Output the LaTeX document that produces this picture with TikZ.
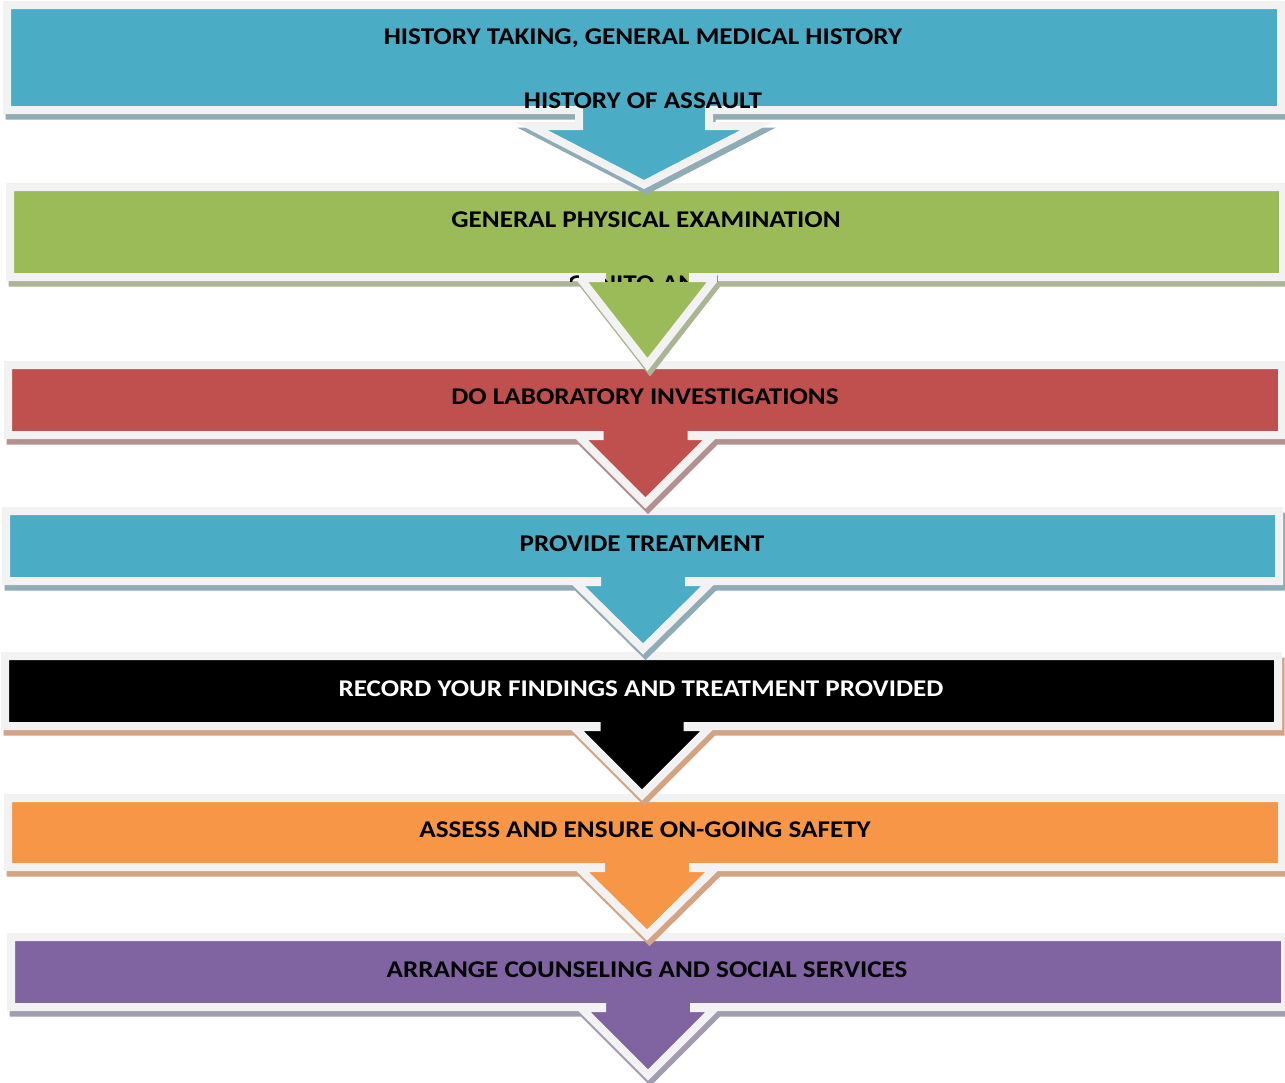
\documentclass[tikz,border=0pt]{standalone}
\usepackage{fontspec}
\setmainfont{Carlito}
\definecolor{cblue}{HTML}{4BACC6}
\definecolor{cgreen}{HTML}{9BBB59}
\definecolor{cred}{HTML}{C0504D}
\definecolor{corange}{HTML}{F79646}
\definecolor{cpurple}{HTML}{8064A2}
\definecolor{sblue}{HTML}{8FABB6}
\definecolor{sgreen}{HTML}{A9B595}
\definecolor{sred}{HTML}{B39191}
\definecolor{stan}{HTML}{D2A483}
\definecolor{spurple}{HTML}{A39BAF}
\definecolor{outl}{HTML}{F2F2F2}
% #1 L, #2 T, #3 R, #4 B, #5 cx, #6 stem half width, #7 head half width, #8 head top, #9 apex y
\newcommand\bandshape[9]{%
  \filldraw[fill=\bshad,draw=\bshad,line width=8pt,line join=miter,shift={(2.5,5.5)}] (#1,#2) -- (#3,#2) -- (#3,#4) -- ({#5+#6},#4) -- ({#5+#6},#8) -- ({#5+#7},#8) -- (#5,#9) -- ({#5-#7},#8) -- ({#5-#6},#8) -- ({#5-#6},#4) -- (#1,#4) -- cycle;
  \filldraw[fill=\bfill,draw=outl,line width=8pt,line join=miter] (#1,#2) -- (#3,#2) -- (#3,#4) -- ({#5+#6},#4) -- ({#5+#6},#8) -- ({#5+#7},#8) -- (#5,#9) -- ({#5-#7},#8) -- ({#5-#6},#8) -- ({#5-#6},#4) -- (#1,#4) -- cycle;
}
\newcommand\wtxt[1]{\scalebox{1.13}[1]{#1}}
\tikzset{lbl/.style={font=\fontsize{24}{24}\selectfont\bfseries, text=black, inner sep=0pt, anchor=base}}
\begin{document}
\begin{tikzpicture}[x=1pt,y=-1pt]
\useasboundingbox (0,0) rectangle (1285,1082);
\fill[white] (0,0) rectangle (1285,1082);
% band 7
\def\bfill{cpurple}\def\bshad{spurple}
\bandshape{11}{937}{1285}{1007}{648}{46}{67}{1008}{1075}
\node[lbl] (t7) at (647,977.5) {\wtxt{ARRANGE COUNSELING AND SOCIAL SERVICES}};
% band 6
\def\bfill{corange}\def\bshad{stan}
\bandshape{8}{798}{1282}{867}{647}{46}{68}{868}{935}
\node[lbl] (t6) at (645,837.5) {\wtxt{ASSESS AND ENSURE ON-GOING SAFETY}};
% band 5
\def\bfill{black}\def\bshad{stan}
\bandshape{5}{656}{1278}{726}{642}{45.5}{68}{727}{795}
\node[lbl,text=white] (t5) at (641,696.5) {\wtxt{RECORD YOUR FINDINGS AND TREATMENT PROVIDED}};
% band 4
\def\bfill{cblue}\def\bshad{sblue}
\bandshape{6}{511}{1279}{581}{643}{46}{68}{582}{649}
\node[lbl] (t4) at (642,551.5) {\wtxt{PROVIDE TREATMENT}};
% band 3
\def\bfill{cred}\def\bshad{sred}
\bandshape{8}{365}{1282}{435}{645.5}{46}{67}{436}{503}
\node[lbl] (t3) at (645,404.5) {\wtxt{DO LABORATORY INVESTIGATIONS}};
% band 2
\def\bfill{cgreen}\def\bshad{sgreen}
\bandshape{10}{187}{1283}{277}{647.5}{45.5}{67.5}{278}{364.5}
\node[lbl] (t2) at (646,227.5) {\wtxt{GENERAL PHYSICAL EXAMINATION}};
\begin{scope}
\clip (570,272) rectangle (578,281) (605,272) rectangle (688,281) (717,272) rectangle (722,281);
\node[lbl] (t2b) at (646,291) {\wtxt{GENITO-ANAL}};
\end{scope}
% band 1
\def\bfill{cblue}\def\bshad{sblue}
\bandshape{7}{5}{1281}{110}{644}{65}{113}{126}{184.5}
\node[lbl] (t1a) at (643,44.5) {\wtxt{HISTORY TAKING, GENERAL MEDICAL HISTORY}};
\node[lbl] (t1b) at (643,108) {\wtxt{HISTORY OF ASSAULT}};
\end{tikzpicture}
\end{document}
